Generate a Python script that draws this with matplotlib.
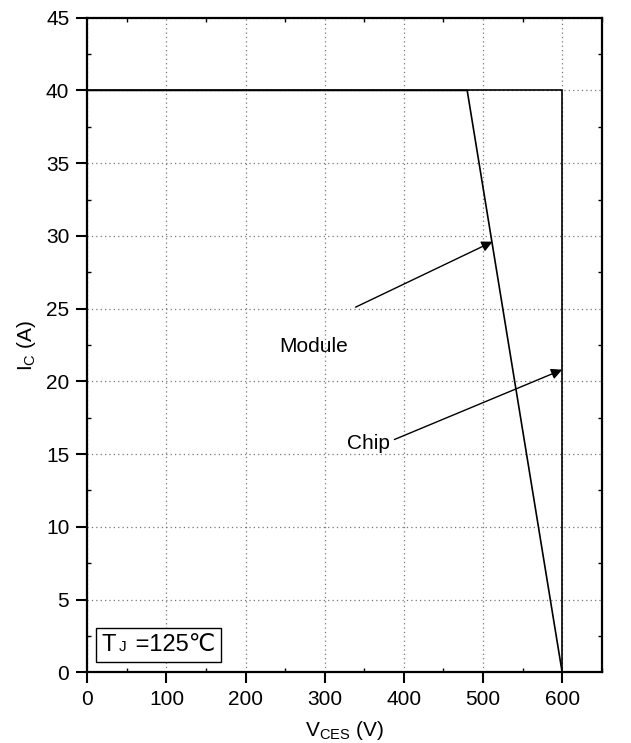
import matplotlib
matplotlib.use("Agg")
import matplotlib.pyplot as plt
from matplotlib.ticker import MultipleLocator
from matplotlib.offsetbox import TextArea, HPacker, AnchoredOffsetbox

plt.rcParams['font.family'] = ['Liberation Sans', 'DejaVu Sans']
plt.rcParams['mathtext.fontset'] = 'custom'
plt.rcParams['mathtext.rm'] = 'Liberation Sans'
plt.rcParams['mathtext.it'] = 'Liberation Sans:italic'

# chip SOA boundary
chip_v = [0, 600, 600]
chip_i = [40, 40, 0]
# module SOA boundary
module_v = [0, 480, 600]
module_i = [40, 40, 0]

# annotation arrows: (text pos, arrow head)
module_text = (339, 25.1)
module_head = (512, 29.6)
chip_text = (388, 16.0)
chip_head = (600, 20.8)

fig = plt.figure(figsize=(6.31, 7.43), dpi=100)
ax = fig.add_axes([0.1384, 0.0952, 0.8152, 0.8810])

ax.plot(chip_v, chip_i, color='black', lw=1.2)
ax.plot(module_v, module_i, color='black', lw=1.2)

ax.set_xlim(0, 650)
ax.set_ylim(0, 45)
ax.xaxis.set_major_locator(MultipleLocator(100))
ax.xaxis.set_minor_locator(MultipleLocator(50))
ax.yaxis.set_major_locator(MultipleLocator(5))
ax.yaxis.set_minor_locator(MultipleLocator(2.5))
ax.grid(True, which='major', linestyle=(0, (1, 2.5)), color='#777777', lw=0.9)
ax.set_axisbelow(True)

for s in ax.spines.values():
    s.set_linewidth(1.6)
ax.tick_params(which='major', direction='out', length=8, width=1.5, labelsize=15,
               pad=5)
ax.tick_params(which='minor', direction='in', length=3, width=1.0)
ax.tick_params(which='both', top=True, right=True)
ax.tick_params(which='major', top=False, right=False)

ax.set_xlabel(r'V$_\mathregular{CES}$ (V)', fontsize=15, labelpad=7)
ax.set_ylabel(r'I$_\mathregular{C}$ (A)', fontsize=15, labelpad=6)

arrow = dict(arrowstyle='-|>', color='black', lw=1.0, mutation_scale=16,
             shrinkA=0, shrinkB=0)
ax.annotate('', xy=module_head, xytext=module_text, arrowprops=arrow)
ax.annotate('', xy=chip_head, xytext=chip_text, arrowprops=arrow)
ax.text(286, 22.4, 'Module', fontsize=15, ha='center', va='center')
ax.text(355, 15.7, 'Chip', fontsize=15, ha='center', va='center')

# temperature box: "T" + small "J" + " =125℃", baseline aligned
parts = [TextArea('T', textprops=dict(fontsize=17)),
         TextArea('J', textprops=dict(fontsize=11)),
         TextArea(' =125℃', textprops=dict(fontsize=17))]
pack = HPacker(children=parts, align='baseline', pad=0, sep=2)
box = AnchoredOffsetbox(loc='lower left', child=pack, pad=0.42, borderpad=0,
                        frameon=True, bbox_to_anchor=(0.016, 0.016),
                        bbox_transform=ax.transAxes)
box.patch.set_edgecolor('black')
box.patch.set_linewidth(1.0)
box.patch.set_boxstyle('square', pad=0)
ax.add_artist(box)

fig.savefig('out.png', dpi=100)
